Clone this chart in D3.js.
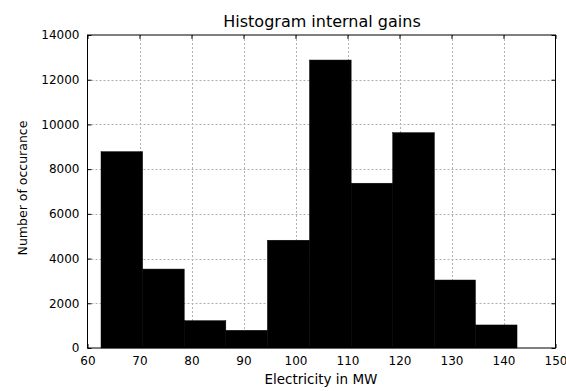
<!DOCTYPE html>
<html>
<head>
<meta charset="utf-8">
<script src="https://cdn.jsdelivr.net/npm/d3@7"></script>
<style>
  body { margin: 0; background: #fff; }
  text { font-family: "DejaVu Sans", sans-serif; fill: #000; }
  .grid line { stroke: #b0b0b0; stroke-dasharray: 2,2; }
</style>
</head>
<body>
<svg id="chart"></svg>
<script>
  // bin edges and counts
  var binEdges = [62.6, 70.6, 78.6, 86.6, 94.6, 102.7, 110.7, 118.7, 126.7, 134.6, 142.6];
  var counts = [8780, 3530, 1220, 790, 4820, 12880, 7370, 9630, 3040, 1030];
  var xTicks = [60, 70, 80, 90, 100, 110, 120, 130, 140, 150];
  var yTicks = [0, 2000, 4000, 6000, 8000, 10000, 12000, 14000];

  var W = 566, H = 391;
  var plotLeft = 87.5, plotRight = 555.5, plotTop = 35, plotBottom = 348;

  var svg = d3.select('#chart').attr('width', W).attr('height', H);

  var x = d3.scaleLinear().domain([60, 150]).range([plotLeft, plotRight]);
  var y = d3.scaleLinear().domain([0, 14000]).range([plotBottom, plotTop]);

  /* grid */
  var grid = svg.append('g').attr('class', 'grid');
  grid.selectAll('.gx').data(xTicks.slice(1, -1)).enter().append('line')
    .attr('x1', function(d) { return Math.round(x(d)) + 0.5; })
    .attr('x2', function(d) { return Math.round(x(d)) + 0.5; })
    .attr('y1', plotTop).attr('y2', plotBottom);
  grid.selectAll('.gy').data(yTicks.slice(1, -1)).enter().append('line')
    .attr('y1', function(d) { return Math.round(y(d)) + 0.5; })
    .attr('y2', function(d) { return Math.round(y(d)) + 0.5; })
    .attr('x1', plotLeft).attr('x2', plotRight);

  /* bars */
  var bins = counts.map(function(c, i) {
    return { x0: binEdges[i], x1: binEdges[i + 1], n: c };
  });
  svg.append('g').selectAll('rect').data(bins).enter().append('rect')
    .attr('x', function(d) { return x(d.x0); })
    .attr('width', function(d) { return x(d.x1) - x(d.x0); })
    .attr('y', function(d) { return y(d.n); })
    .attr('height', function(d) { return plotBottom - y(d.n); })
    .attr('fill', '#000')
    .attr('stroke', '#000')
    .attr('stroke-width', 0.5);

  /* axes: ticks inside on all four sides */
  function noDomain(g) { g.select('.domain').remove(); }
  svg.append('g')
    .attr('transform', 'translate(0,' + plotBottom + ')')
    .call(d3.axisBottom(x).tickValues(xTicks).tickSizeInner(-4).tickPadding(8))
    .call(noDomain)
    .selectAll('text').style('font-size', '12px');
  svg.append('g')
    .attr('transform', 'translate(0,' + plotTop + ')')
    .call(d3.axisTop(x).tickValues(xTicks).tickSizeInner(-4).tickFormat(''))
    .call(noDomain);
  svg.append('g')
    .attr('transform', 'translate(' + plotLeft + ',0)')
    .call(d3.axisLeft(y).tickValues(yTicks).tickSizeInner(-4).tickPadding(8)
      .tickFormat(d3.format('d')))
    .call(noDomain)
    .selectAll('text').style('font-size', '12px');
  svg.append('g')
    .attr('transform', 'translate(' + plotRight + ',0)')
    .call(d3.axisRight(y).tickValues(yTicks).tickSizeInner(-4).tickFormat(''))
    .call(noDomain);

  svg.append('rect')
    .attr('x', plotLeft).attr('y', plotTop)
    .attr('width', plotRight - plotLeft).attr('height', plotBottom - plotTop)
    .attr('fill', 'none').attr('stroke', '#000').attr('stroke-width', 1);

  /* labels */
  svg.append('text')
    .attr('x', 322).attr('y', 27)
    .attr('text-anchor', 'middle').style('font-size', '16px')
    .text('Histogram internal gains');
  svg.append('text')
    .attr('x', 321).attr('y', 384)
    .attr('text-anchor', 'middle').style('font-size', '13.5px')
    .text('Electricity in MW');
  svg.append('text')
    .attr('transform', 'translate(27,188) rotate(-90)')
    .attr('text-anchor', 'middle').style('font-size', '12.5px')
    .text('Number of occurance');
</script>
</body>
</html>
